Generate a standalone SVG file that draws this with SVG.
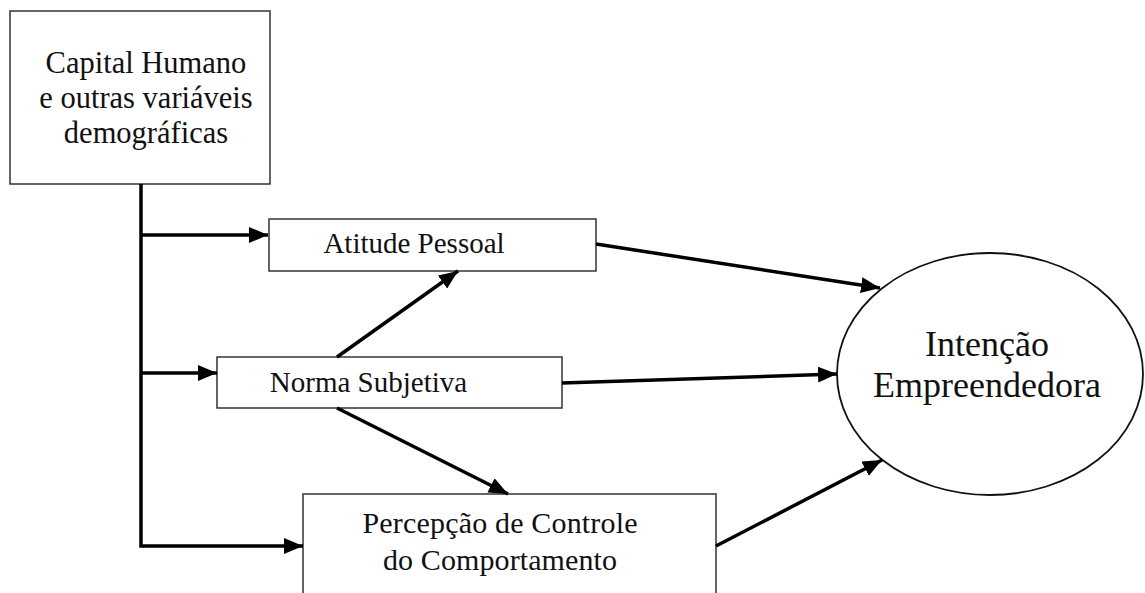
<svg xmlns="http://www.w3.org/2000/svg" width="1145" height="593" viewBox="0 0 1145 593">
<style>
.box{fill:#fff;stroke:#333;stroke-width:1.5}
.t{font-family:"Liberation Serif","Times New Roman",serif;fill:#111;text-anchor:middle}
.c{fill:none;stroke:#000;stroke-width:3.5}
</style>
<defs>
<marker id="ah" markerUnits="userSpaceOnUse" markerWidth="20" markerHeight="16" refX="19" refY="8" orient="auto">
<path d="M0,0 L19,8 L0,16 Z" fill="#000"/>
</marker>
</defs>
<rect width="1145" height="593" fill="#fff"/>
<g id="capital">
<rect class="box" x="10" y="11" width="260" height="173"/>
<text class="t" font-size="30.5" x="146" y="73">Capital Humano</text>
<text class="t" font-size="30.5" x="146" y="108">e outras variáveis</text>
<text class="t" font-size="30.5" x="146" y="143">demográficas</text>
</g>
<g id="atitude">
<rect class="box" x="269" y="219" width="327" height="52"/>
<text class="t" font-size="29" x="414" y="253">Atitude Pessoal</text>
</g>
<g id="norma">
<rect class="box" x="217" y="357" width="345" height="51"/>
<text class="t" font-size="29" x="368.5" y="392">Norma Subjetiva</text>
</g>
<g id="percepcao">
<rect class="box" x="303" y="494" width="413" height="120"/>
<text class="t" font-size="30" x="500" y="533" textLength="275">Percepção de Controle</text>
<text class="t" font-size="30" x="500" y="570" textLength="234">do Comportamento</text>
</g>
<g id="intencao">
<ellipse cx="990" cy="374" rx="153" ry="121" fill="#fff" stroke="#111" stroke-width="1.8"/>
<text class="t" font-size="36" x="987" y="356">Intenção</text>
<text class="t" font-size="36" x="987" y="397">Empreendedora</text>
</g>
<g id="connectors">
<polyline class="c" points="141,184 141,546 303,546" marker-end="url(#ah)"/>
<line class="c" x1="141" y1="235" x2="268" y2="235" marker-end="url(#ah)"/>
<line class="c" x1="141" y1="373" x2="217" y2="373" marker-end="url(#ah)"/>
<line class="c" x1="337" y1="357" x2="458" y2="271" marker-end="url(#ah)"/>
<line class="c" x1="337" y1="408" x2="508" y2="494" marker-end="url(#ah)"/>
<line class="c" x1="596" y1="244" x2="880" y2="288" marker-end="url(#ah)"/>
<line class="c" x1="562" y1="383" x2="837" y2="374" marker-end="url(#ah)"/>
<line class="c" x1="716" y1="546" x2="882" y2="460" marker-end="url(#ah)"/>
</g>
</svg>
